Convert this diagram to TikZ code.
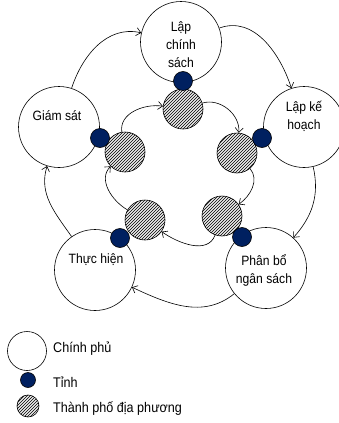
\documentclass[tikz,border=0pt]{standalone}
\usepackage{fontspec}
\setmainfont{Liberation Sans}[FakeStretch=0.9]
\usetikzlibrary{arrows.meta,patterns}
\definecolor{navy}{RGB}{0,32,96}
\begin{document}
\begin{tikzpicture}[x=1pt,y=-1pt,
  gov/.style={circle,draw,line width=0.6pt,minimum size=81pt,inner sep=0pt},
  prov/.style={circle,draw,line width=0.6pt,fill=navy,minimum size=19pt,inner sep=0pt},
  city/.style={circle,draw,line width=0.6pt,preaction={fill=gray!15},pattern=north east lines,minimum size=40pt,inner sep=0pt},
  lbl/.style={font=\fontsize{13.5}{18}\selectfont,align=center,inner sep=0pt},
  leg/.style={font=\fontsize{14}{18}\selectfont,anchor=west,inner sep=0pt},
  flow/.style={-{Straight Barb[length=4.5pt,width=8pt]},line width=0.6pt},
]
\useasboundingbox (0,0) rectangle (338,423);
% government circles
\node[gov] (lcs) at (181,42) {};
\node[gov] (lkh) at (304,127) {};
\node[gov] (pb)  at (266,268) {};
\node[gov] (th)  at (95,270) {};
\node[gov] (gs)  at (59,127) {};
% labels
\node[lbl] (tlcs) at (181,45) {Lập\\chính\\sách};
\node[lbl] (tlkh) at (304,116) {Lập kế\\hoạch};
\node[lbl] (tpb)  at (264,270) {Phân bổ\\ngân sách};
\node[lbl] (tth)  at (96,260) {Thực hiện};
\node[lbl] (tgs)  at (57,116) {Giám sát};
% city circles
\node[city] (c1) at (183,109) {};
\node[city] (c2) at (237,153) {};
\node[city] (c3) at (222,216) {};
\node[city] (c4) at (145,220) {};
\node[city] (c5) at (125,152) {};
% province dots
\node[prov] (p1) at (183,81) {};
\node[prov] (p2) at (262,138) {};
\node[prov] (p3) at (242,237) {};
\node[prov] (p4) at (120,238) {};
\node[prov] (p5) at (100,138) {};
% outer cycle
\draw[flow] (lcs.20) to[out=20,in=108] (lkh.108);
\draw[flow] (lkh.-77) to[out=-77,in=48] (pb.48);
\draw[flow] (pb.-141) to[out=-141,in=-25] (th.-25);
\draw[flow] (th.125) to[out=125,in=-107] (gs.-107);
\draw[flow] (gs.72) to[out=72,in=167] (lcs.167);
% inner cycle
\draw[flow] (c1.17) to[out=17,in=85] (c2.85);
\draw[flow] (c2.-50) to[out=-50,in=35] (c3.35);
\draw[flow] (c3.-110) to[out=-110,in=-35] (c4.-35);
\draw[flow] (c4.150) to[out=150,in=-135] (c5.-135);
\draw[flow] (c5.99) to[out=99,in=172] (c1.172);
% legend
\node[gov,minimum size=39pt] (lg1) at (27,351) {};
\node[prov,minimum size=15pt] (lg2) at (28,380) {};
\node[city,minimum size=22pt] (lg3) at (28,406) {};
\node[leg] (lt1) at (53,349) {Chính phủ};
\node[leg] (lt2) at (53,382) {Tỉnh};
\node[leg] (lt3) at (53,409) {Thành phố địa phương};
\end{tikzpicture}
\end{document}
